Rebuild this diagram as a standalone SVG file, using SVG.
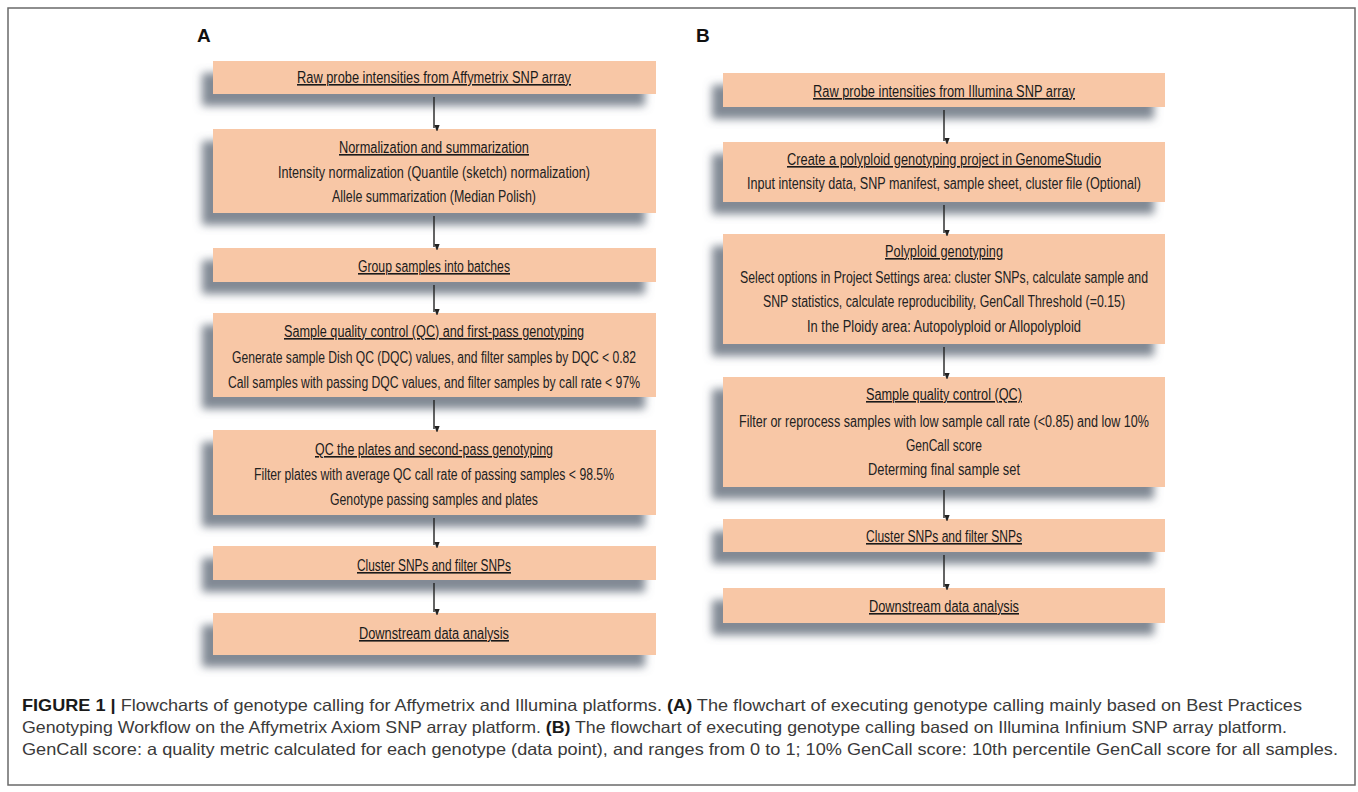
<svg xmlns="http://www.w3.org/2000/svg" width="1358" height="792" viewBox="0 0 1358 792">
<style>
.box{fill:#f8c7a6;}
.t{font-family:"Liberation Sans",Arial,sans-serif;font-size:16px;fill:#222;text-anchor:middle;}
.h{text-decoration:underline;fill:#1a1a1a;}
.lbl{font-family:"Liberation Sans",Arial,sans-serif;font-size:19px;font-weight:bold;fill:#111;}
.cap{font-family:"Liberation Sans",Arial,sans-serif;font-size:16.5px;fill:#3a3a3a;}
.b{font-weight:bold;fill:#1a1a1a;}
.conn{stroke:#222;stroke-width:1.4;fill:none;marker-end:url(#ah);}
</style>
<defs>
<filter id="sh" x="-10%" y="-40%" width="120%" height="220%">
<feGaussianBlur in="SourceAlpha" stdDeviation="4.5" result="b"/>
<feOffset in="b" dx="-11" dy="12" result="o"/>
<feFlood flood-color="#626c7a" flood-opacity="0.8"/>
<feComposite in2="o" operator="in" result="s"/>
<feMerge><feMergeNode in="s"/><feMergeNode in="SourceGraphic"/></feMerge>
</filter>
<marker id="ah" markerWidth="6" markerHeight="8" refX="3" refY="7" orient="auto-start-reverse" markerUnits="userSpaceOnUse" viewBox="0 0 6 8">
<path d="M0,0 L6,0 L3,8 Z" fill="#222" transform="rotate(-90 3 4)"/>
</marker>
</defs>
<rect x="8" y="8" width="1347" height="777" fill="#fff" stroke="#6a6a6a" stroke-width="1.5"/>
<text class="lbl" x="197" y="42">A</text>
<text class="lbl" x="696" y="42">B</text>

<g id="A1"><rect class="box" x="213" y="61" width="443" height="33" filter="url(#sh)"/>
<text class="t h" x="434" y="83" textLength="274" lengthAdjust="spacingAndGlyphs">Raw probe intensities from Affymetrix SNP array</text></g>
<g id="A2"><rect class="box" x="213" y="129" width="443" height="84" filter="url(#sh)"/>
<text class="t h" x="434" y="153" textLength="190" lengthAdjust="spacingAndGlyphs">Normalization and summarization</text>
<text class="t" x="434" y="178" textLength="312" lengthAdjust="spacingAndGlyphs">Intensity normalization (Quantile (sketch) normalization)</text>
<text class="t" x="434" y="202" textLength="204" lengthAdjust="spacingAndGlyphs">Allele summarization (Median Polish)</text></g>
<g id="A3"><rect class="box" x="213" y="248" width="443" height="34" filter="url(#sh)"/>
<text class="t h" x="434" y="272" textLength="152" lengthAdjust="spacingAndGlyphs">Group samples into batches</text></g>
<g id="A4"><rect class="box" x="213" y="313" width="443" height="84" filter="url(#sh)"/>
<text class="t h" x="434" y="337" textLength="300" lengthAdjust="spacingAndGlyphs">Sample quality control (QC) and first-pass genotyping</text>
<text class="t" x="434" y="363" textLength="404" lengthAdjust="spacingAndGlyphs">Generate sample Dish QC (DQC) values, and filter samples by DQC &lt; 0.82</text>
<text class="t" x="434" y="388" textLength="412" lengthAdjust="spacingAndGlyphs">Call samples with passing DQC values, and filter samples by call rate &lt; 97%</text></g>
<g id="A5"><rect class="box" x="213" y="430" width="443" height="85" filter="url(#sh)"/>
<text class="t h" x="434" y="455" textLength="238" lengthAdjust="spacingAndGlyphs">QC the plates and second-pass genotyping</text>
<text class="t" x="434" y="480" textLength="360" lengthAdjust="spacingAndGlyphs">Filter plates with average QC call rate of passing samples &lt; 98.5%</text>
<text class="t" x="434" y="505" textLength="208" lengthAdjust="spacingAndGlyphs">Genotype passing samples and plates</text></g>
<g id="A6"><rect class="box" x="213" y="546" width="443" height="34" filter="url(#sh)"/>
<text class="t h" x="434" y="571" textLength="154" lengthAdjust="spacingAndGlyphs">Cluster SNPs and filter SNPs</text></g>
<g id="A7"><rect class="box" x="213" y="613" width="443" height="42" filter="url(#sh)"/>
<text class="t h" x="434" y="639" textLength="150" lengthAdjust="spacingAndGlyphs">Downstream data analysis</text></g>

<g id="B1"><rect class="box" x="723" y="73" width="442" height="34" filter="url(#sh)"/>
<text class="t h" x="944" y="97" textLength="262" lengthAdjust="spacingAndGlyphs">Raw probe intensities from Illumina SNP array</text></g>
<g id="B2"><rect class="box" x="723" y="142" width="442" height="60" filter="url(#sh)"/>
<text class="t h" x="944" y="165" textLength="314" lengthAdjust="spacingAndGlyphs">Create a polyploid genotyping project in GenomeStudio</text>
<text class="t" x="944" y="189" textLength="394" lengthAdjust="spacingAndGlyphs">Input intensity data, SNP manifest, sample sheet, cluster file (Optional)</text></g>
<g id="B3"><rect class="box" x="723" y="234" width="442" height="110" filter="url(#sh)"/>
<text class="t h" x="944" y="257" textLength="118" lengthAdjust="spacingAndGlyphs">Polyploid genotyping</text>
<text class="t" x="944" y="283" textLength="408" lengthAdjust="spacingAndGlyphs">Select options in Project Settings area: cluster SNPs, calculate sample and</text>
<text class="t" x="944" y="307" textLength="362" lengthAdjust="spacingAndGlyphs">SNP statistics, calculate reproducibility, GenCall Threshold (=0.15)</text>
<text class="t" x="944" y="332" textLength="274" lengthAdjust="spacingAndGlyphs">In the Ploidy area: Autopolyploid or Allopolyploid</text></g>
<g id="B4"><rect class="box" x="723" y="377" width="442" height="110" filter="url(#sh)"/>
<text class="t h" x="944" y="400" textLength="156" lengthAdjust="spacingAndGlyphs">Sample quality control (QC)</text>
<text class="t" x="944" y="427" textLength="410" lengthAdjust="spacingAndGlyphs">Filter or reprocess samples with low sample call rate (&lt;0.85) and low 10%</text>
<text class="t" x="944" y="451" textLength="76" lengthAdjust="spacingAndGlyphs">GenCall score</text>
<text class="t" x="944" y="475" textLength="152" lengthAdjust="spacingAndGlyphs">Determing final sample set</text></g>
<g id="B5"><rect class="box" x="723" y="519" width="442" height="33" filter="url(#sh)"/>
<text class="t h" x="944" y="542" textLength="156" lengthAdjust="spacingAndGlyphs">Cluster SNPs and filter SNPs</text></g>
<g id="B6"><rect class="box" x="723" y="588" width="442" height="35" filter="url(#sh)"/>
<text class="t h" x="944" y="612" textLength="150" lengthAdjust="spacingAndGlyphs">Downstream data analysis</text></g>

<g id="connectors">
<path class="conn" d="M434,97 V128"/>
<path class="conn" d="M434,216 V247"/>
<path class="conn" d="M434,285 V312"/>
<path class="conn" d="M434,400 V429"/>
<path class="conn" d="M434,518 V545"/>
<path class="conn" d="M434,583 V612"/>
<path class="conn" d="M944,110 V141"/>
<path class="conn" d="M944,205 V233"/>
<path class="conn" d="M944,347 V376"/>
<path class="conn" d="M944,490 V518"/>
<path class="conn" d="M944,555 V587"/>
</g>

<g id="caption">
<text class="cap" x="22" y="711" textLength="1280" lengthAdjust="spacingAndGlyphs"><tspan class="b">FIGURE 1 |</tspan> Flowcharts of genotype calling for Affymetrix and Illumina platforms. <tspan class="b">(A)</tspan> The flowchart of executing genotype calling mainly based on Best Practices</text>
<text class="cap" x="22" y="733" textLength="1265" lengthAdjust="spacingAndGlyphs">Genotyping Workflow on the Affymetrix Axiom SNP array platform. <tspan class="b">(B)</tspan> The flowchart of executing genotype calling based on Illumina Infinium SNP array platform.</text>
<text class="cap" x="22" y="755" textLength="1316" lengthAdjust="spacingAndGlyphs">GenCall score: a quality metric calculated for each genotype (data point), and ranges from 0 to 1; 10% GenCall score: 10th percentile GenCall score for all samples.</text>
</g>
</svg>
